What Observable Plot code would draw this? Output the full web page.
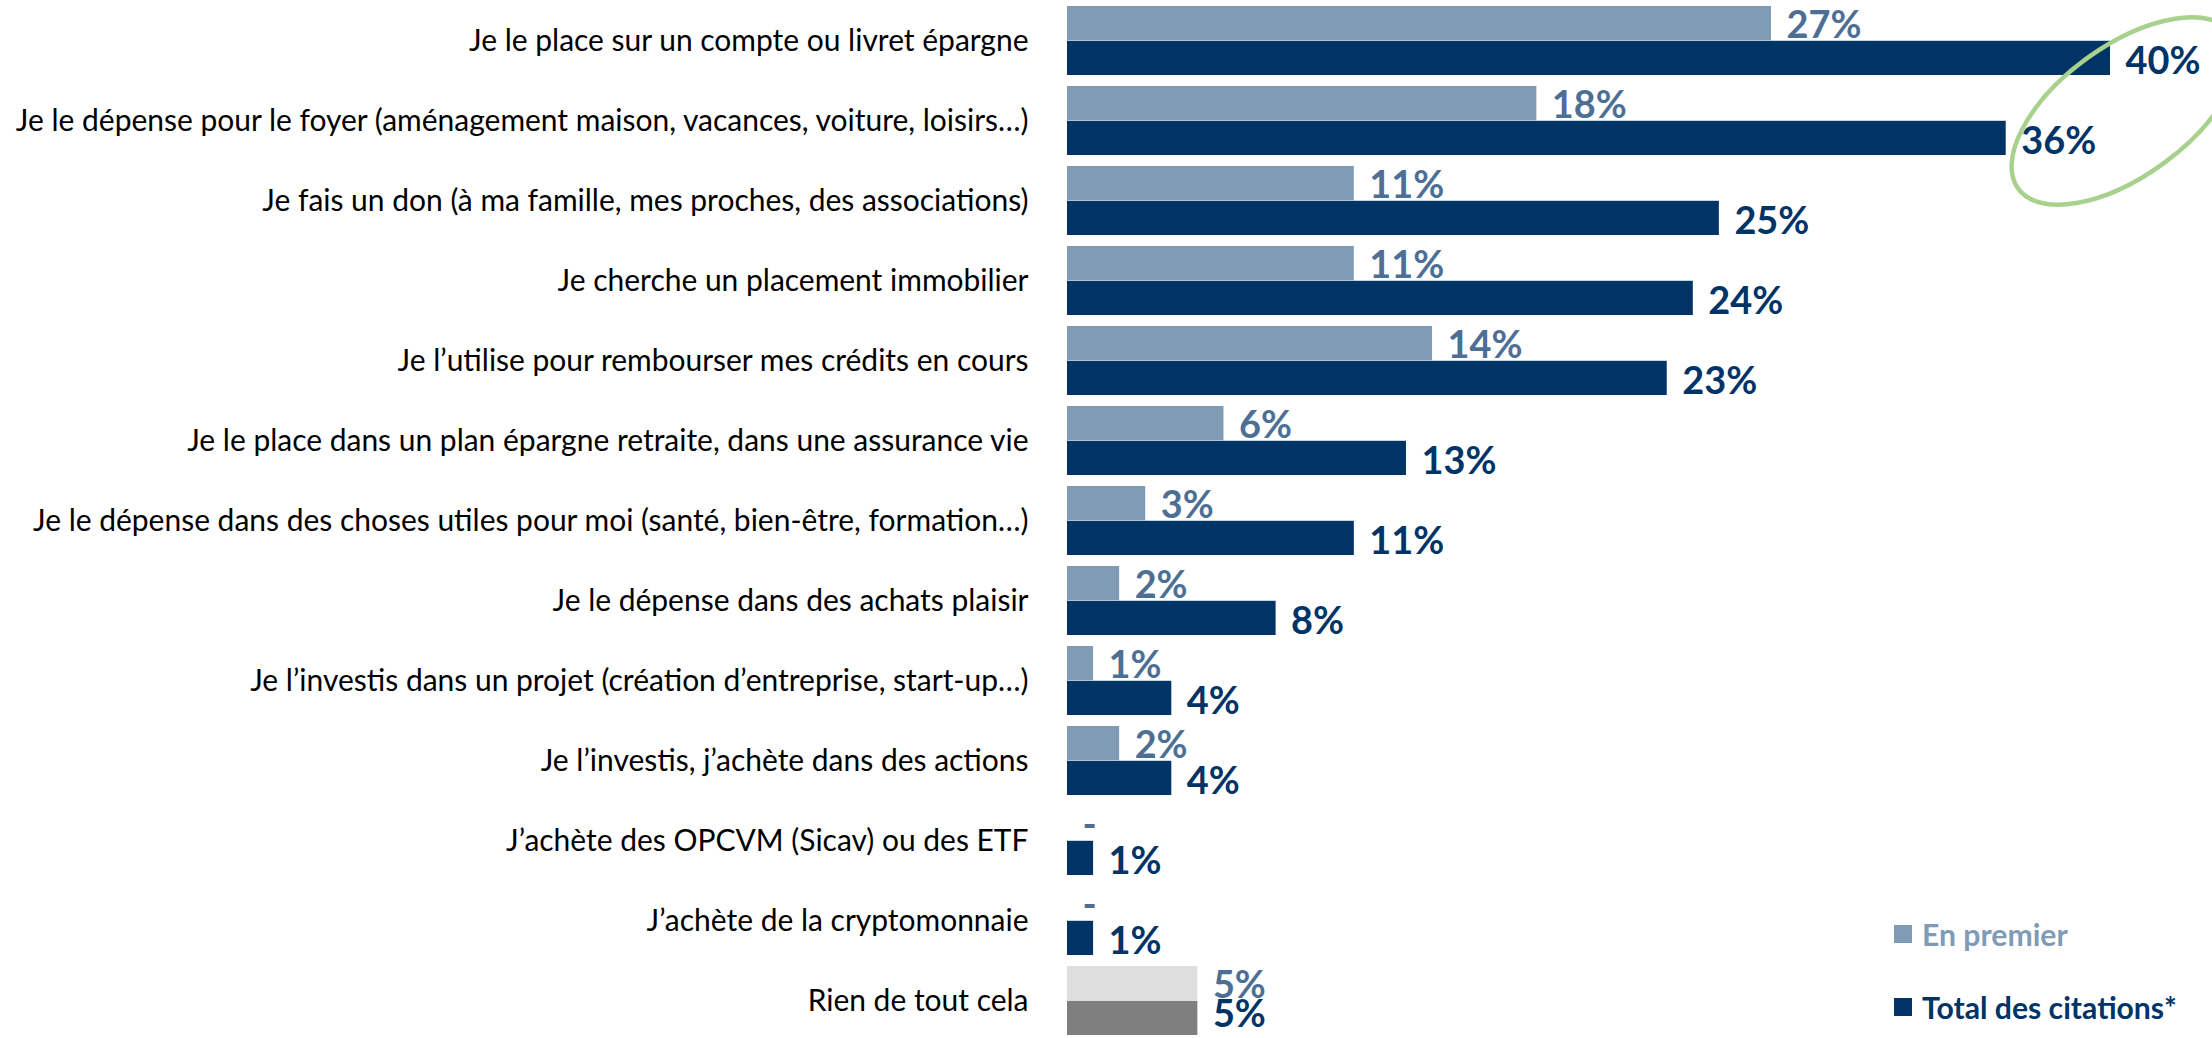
<!DOCTYPE html>
<html><head><meta charset="utf-8">
<script src="https://cdn.jsdelivr.net/npm/d3@7"></script>
<script src="https://cdn.jsdelivr.net/npm/@observablehq/plot@0.6"></script>
<style>
html,body{margin:0;padding:0;background:#fff;}
#wrap{position:relative;width:2212px;height:1038px;overflow:hidden;background:#fff;}
.legend{position:absolute;left:1894px;height:40px;font-family:Lato,"Open Sans",sans-serif;font-weight:700;display:flex;align-items:center;white-space:nowrap;}
.legend .sw{display:inline-block;width:18px;height:18px;margin-right:10px;flex:none;}
</style></head><body><div id="wrap"></div>
<script>
const categories = [
  "Je le place sur un compte ou livret épargne",
  "Je le dépense pour le foyer (aménagement maison, vacances, voiture, loisirs…)",
  "Je fais un don (à ma famille, mes proches, des associations)",
  "Je cherche un placement immobilier",
  "Je l’utilise pour rembourser mes crédits en cours",
  "Je le place dans un plan épargne retraite, dans une assurance vie",
  "Je le dépense dans des choses utiles pour moi (santé, bien-être, formation…)",
  "Je le dépense dans des achats plaisir",
  "Je l’investis dans un projet (création d’entreprise, start-up…)",
  "Je l’investis, j’achète dans des actions",
  "J’achète des OPCVM (Sicav) ou des ETF",
  "J’achète de la cryptomonnaie",
  "Rien de tout cela"
];
const seriesNames = ["En premier", "Total des citations*"];
const enPremier = [27, 18, 11, 11, 14, 6, 3, 2, 1, 2, 0, 0, 5];
const enPremierLabels = ["27%", "18%", "11%", "11%", "14%", "6%", "3%", "2%", "1%", "2%", "-", "-", "5%"];
const totalCitations = [40, 36, 25, 24, 23, 13, 11, 8, 4, 4, 1, 1, 5];
const totalLabels = ["40%", "36%", "25%", "24%", "23%", "13%", "11%", "8%", "4%", "4%", "1%", "1%", "5%"];
const noneCategory = "Rien de tout cela";

const C = {
  light: "#7f9bb6", dark: "#003366",
  lightLabel: "#4e6f95", darkLabel: "#003366",
  greyLight: "#dedede", greyDark: "#7f7f7f",
  text: "#000000", ellipse: "#a9d18e"
};

function fitSize(text, weight, family, target) {
  const ctx = document.createElement("canvas").getContext("2d");
  ctx.font = `${weight} 100px ${family}`;
  return 100 * target / ctx.measureText(text).width;
}

(async function () {
  try { await document.fonts.ready; } catch (e) {}
  const FAMILY = "Lato";
  const W = 2212, H = 1038;
  const catSize = fitSize(categories[1], 400, FAMILY, 1016);
  const valSize = fitSize("27%", 700, FAMILY, 75);
  const legSize = fitSize("Total des citations*", 700, FAMILY, 255);

  const rows = categories.flatMap((c, i) => [
    {cat: c, series: seriesNames[0], value: enPremier[i], label: enPremierLabels[i],
     fill: c === noneCategory ? C.greyLight : C.light},
    {cat: c, series: seriesNames[1], value: totalCitations[i], label: totalLabels[i],
     fill: c === noneCategory ? C.greyDark : C.dark}
  ]);
  const first = rows.filter(d => d.series === seriesNames[0]);
  const total = rows.filter(d => d.series === seriesNames[1]);
  const totalMain = total.filter(d => d.cat !== noneCategory);
  const totalNone = total.filter(d => d.cat === noneCategory);

  const yRange = [5.7, 1042.6], padIn = 0.137;
  const step = (yRange[1] - yRange[0]) / (categories.length - padIn);
  const bw = step * (1 - padIn);

  const valText = {x: "value", y: "cat", text: "label", dx: 15, textAnchor: "start",
    fontSize: valSize, fontWeight: 700, lineAnchor: "middle"};

  const plot = Plot.plot({
    width: W, height: H,
    marginLeft: 1067, marginRight: 102, marginTop: 0, marginBottom: 0,
    style: {fontFamily: FAMILY, background: "transparent", overflow: "visible"},
    x: {domain: [0, 40], axis: null},
    y: {type: "band", domain: categories, range: yRange, paddingInner: padIn, paddingOuter: 0, align: 0, axis: null},
    marks: [
      Plot.barX(first, {x: "value", y: "cat", fill: "fill", insetBottom: bw / 2}),
      Plot.barX(total, {x: "value", y: "cat", fill: "fill", insetTop: bw / 2}),
      Plot.text(categories, {x: 0, y: d => d, text: d => d, dx: -39, textAnchor: "end",
        fontSize: catSize, fill: C.text, lineAnchor: "middle"}),
      Plot.text(first, {...valText, dy: -bw / 4 + 2, fill: C.lightLabel}),
      Plot.text(totalMain, {...valText, dy: bw / 4 + 3, fill: C.darkLabel}),
      Plot.text(totalNone, {...valText, dy: bw / 4 - 4, fill: C.darkLabel})
    ]
  });

  // Annotation ellipse around the two top totals
  const xs = plot.scale("x"), ys = plot.scale("y");
  const cx = xs.apply(totalCitations[0]) + 15;
  const cy = ys.apply(categories[1]) + 25;
  d3.select(plot).append("ellipse")
    .attr("cx", cx).attr("cy", cy).attr("rx", 132).attr("ry", 65)
    .attr("transform", `rotate(-36 ${cx} ${cy})`)
    .attr("fill", "none").attr("stroke", C.ellipse).attr("stroke-width", 4.5);

  const wrap = document.getElementById("wrap");
  wrap.appendChild(plot);

  // Legend
  const legendItems = [
    {name: seriesNames[0], color: C.light, center: 934},
    {name: seriesNames[1], color: C.dark, center: 1007}
  ];
  legendItems.forEach(it => {
    const div = document.createElement("div");
    div.className = "legend";
    div.style.top = (it.center - 20) + "px";
    div.style.fontSize = legSize + "px";
    div.style.color = it.color;
    const sw = document.createElement("span");
    sw.className = "sw"; sw.style.background = it.color;
    div.appendChild(sw);
    div.appendChild(document.createTextNode(it.name));
    wrap.appendChild(div);
  });
})();
</script>
</body></html>
